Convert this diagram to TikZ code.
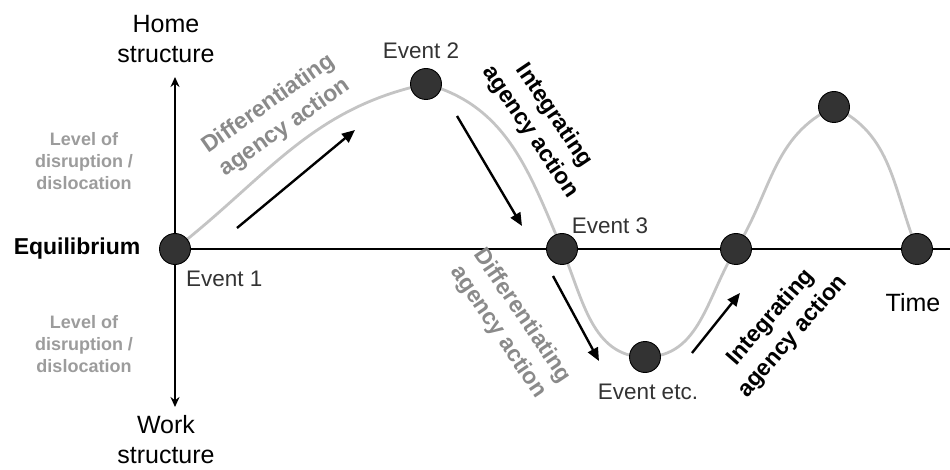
\documentclass[tikz,border=0pt]{standalone}
\usepackage{fontspec}
\setmainfont{Liberation Sans}
\usetikzlibrary{arrows.meta}
\definecolor{curvegray}{HTML}{C4C4C4}
\definecolor{txtgray}{HTML}{8A8A8A}
\definecolor{lvlgray}{HTML}{9C9C9C}
\definecolor{dotfill}{HTML}{333333}
\definecolor{evtxt}{HTML}{333333}
\tikzset{
  evdot/.style={circle,draw=black,line width=0.9pt,fill=dotfill,minimum size=31pt,inner sep=0pt},
  axisline/.style={line width=2pt,black},
  flowarrow/.style={line width=2.4pt,black,-{Triangle[length=13pt,width=11pt]}},
  bigtxt/.style={font=\fontsize{25}{30}\selectfont,align=center,inner sep=0pt},
  evlabel/.style={font=\fontsize{22.5}{27}\selectfont,text=evtxt,inner sep=0pt},
  lvltxt/.style={font=\fontsize{18}{22}\selectfont\bfseries,text=lvlgray,align=center,inner sep=0pt},
  difftxt/.style={font=\fontsize{23}{29}\selectfont\bfseries,text=txtgray,align=center,inner sep=0pt},
  integtxt/.style={font=\fontsize{23}{29}\selectfont\bfseries,text=black,align=center,inner sep=0pt},
}
\begin{document}
\begin{tikzpicture}[x=1pt,y=1pt]
\useasboundingbox (0,0) rectangle (950,469);
% coordinates
\coordinate (top) at (175,392);
\coordinate (bot) at (175,62);
\coordinate (right) at (950,220);
% axes
\draw[axisline,-{Stealth[length=10pt,width=9pt]}] (175,220) -- (top);
\draw[axisline,-{Stealth[length=10pt,width=9pt]}] (175,220) -- (bot);
\draw[axisline] (175,220) -- (right);
% curve
\draw[curvegray,line width=2.8pt]
  (175,220) to[out=38,in=192] (426,385)
  to[out=-15,in=113] (562,220)
  to[out=-67,in=180] (645,112)
  to[out=0,in=238] (736,220)
  to[out=58,in=205] (834,362)
  to[out=-25,in=112] (917,220);
% dots
\node[evdot] (e1) at (175,220) {};
\node[evdot] (e2) at (426,385) {};
\node[evdot] (e3) at (562,220) {};
\node[evdot] (e4) at (645,112) {};
\node[evdot] (e5) at (736,220) {};
\node[evdot] (e6) at (834,362) {};
\node[evdot] (e7) at (917,220) {};
% arrows
\coordinate (a1s) at (237,241); \coordinate (a1e) at (355,339);
\coordinate (a2s) at (457,353); \coordinate (a2e) at (522,243);
\coordinate (a3s) at (553,193); \coordinate (a3e) at (599,108);
\coordinate (a4s) at (692,116); \coordinate (a4e) at (740,176);
\draw[flowarrow] (a1s) -- (a1e);
\draw[flowarrow] (a2s) -- (a2e);
\draw[flowarrow] (a3s) -- (a3e);
\draw[flowarrow] (a4s) -- (a4e);
% texts
\node[bigtxt] (home) at (166,430) {Home\\structure};
\node[bigtxt] (work) at (166,29) {Work\\structure};
\node[lvltxt] (lvl1) at (84,308) {Level of\\disruption /\\dislocation};
\node[lvltxt] (lvl2) at (84,125) {Level of\\disruption /\\dislocation};
\node[font=\fontsize{23}{27}\selectfont\bfseries,inner sep=0pt] (eq) at (77,220) {Equilibrium};
\node[evlabel,anchor=west] (l1) at (186,190) {Event 1};
\node[evlabel] (l2) at (421,418) {Event 2};
\node[evlabel] (l3) at (610,243) {Event 3};
\node[evlabel] (l4) at (648,77) {Event etc.};
\node[bigtxt] (time) at (913,166) {Time};
\node[difftxt,rotate=35] (d1) at (277,353) {Differentiating\\agency action};
\node[integtxt,rotate=-56] (i1) at (542,345) {Integrating\\agency action};
\node[difftxt,rotate=-56] (d2) at (510,145) {Differentiating\\agency action};
\node[integtxt,rotate=49] (i2) at (782,142) {Integrating\\agency action};
\end{tikzpicture}
\end{document}
